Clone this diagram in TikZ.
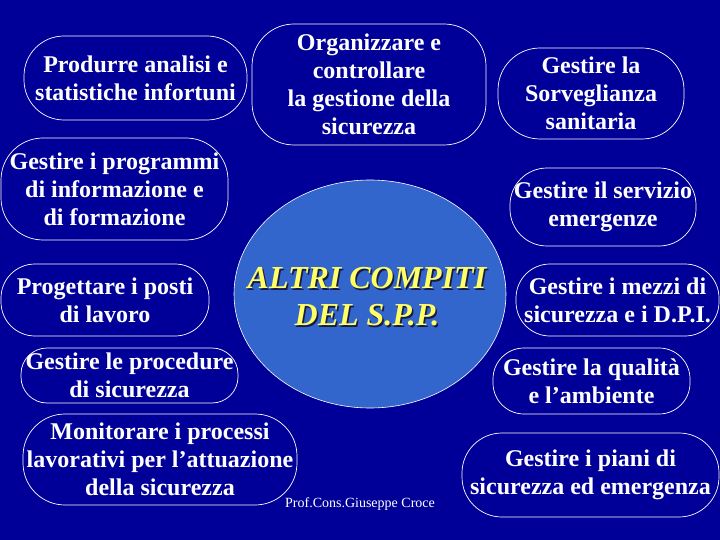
\documentclass[tikz,border=0pt]{standalone}
\usepackage{fontspec}
\setmainfont{Liberation Serif}
\usetikzlibrary{positioning,shapes.geometric}
\definecolor{SPPNavy}{HTML}{000099}
\definecolor{SPPBlue}{HTML}{3366CC}
\definecolor{SPPYellow}{HTML}{FFFF66}
\definecolor{SPPShadow}{HTML}{1A1A40}
\tikzset{
  task/.style={draw=white,line width=0.7pt,rounded corners=#1,text=white,
    font=\fontsize{24}{28}\selectfont\bfseries,align=center,inner sep=0pt},
  task/.default=40pt,
  title/.style={font=\fontsize{32}{37}\selectfont\bfseries\itshape,align=center}
}
\begin{document}
\begin{tikzpicture}[x=1pt,y=-1pt]
    \useasboundingbox (0,0) rectangle (720,540);
    \fill[SPPNavy] (0,0) rectangle (720,540);
    \node[ellipse,fill=SPPBlue,draw=white,line width=0.6pt,
      minimum width=272pt,minimum height=228pt] (compiti) at (370,294) {};
    \node[title,text=SPPShadow] (ombra) at (368.5,298.5)
      {ALTRI COMPITI\\DEL S.P.P.};
    \node[title,text=SPPYellow] (titolo) at (367,297)
      {ALTRI COMPITI\\DEL S.P.P.};
    \node[task,minimum width=223pt,minimum height=84pt] (analisi) at (135.5,78)
      {Produrre analisi e\\statistiche infortuni};
    \node[task=42pt,minimum width=234pt,minimum height=121pt] (organizzare) at (369,84.5)
      {Organizzare e\\controllare\\la gestione della\\sicurezza};
    \node[task=42pt,minimum width=186pt,minimum height=91pt] (sorveglianza) at (591,93.5)
      {Gestire la\\Sorveglianza\\sanitaria};
    \node[task=42pt,minimum width=227pt,minimum height=102pt] (programmi) at (114.5,189)
      {Gestire i programmi\\di informazione e\\di formazione};
    \node[task=37pt,minimum width=186pt,minimum height=78pt] (emergenze) at (603,207)
      {Gestire il servizio\\emergenze};
    \node[task=34pt,minimum width=208pt,minimum height=72pt] (posti) at (105,300)
      {Progettare i posti\\di lavoro};
    \node[task=26pt,minimum width=217pt,minimum height=55pt] (procedure) at (129.5,375.5)
      {Gestire le procedure\\di sicurezza};
    \node[task=42pt,minimum width=274pt,minimum height=91pt] (monitorare) at (160,459.5)
      {Monitorare i processi\\lavorativi per l’attuazione\\della sicurezza};
    \node[task=34pt,minimum width=203pt,minimum height=72pt] (mezzi) at (617.5,300)
      {Gestire i mezzi di\\sicurezza e i D.P.I.};
    \node[task=31pt,minimum width=197pt,minimum height=66pt] (qualita) at (591.5,381)
      {Gestire la qualità\\e l’ambiente};
    \node[task,minimum width=257pt,minimum height=84pt] (piani) at (590.5,475)
      {Gestire i piani di\\sicurezza ed emergenza};
    \node[text=white,font=\fontsize{14}{16}\selectfont] (firma) at (360,504)
      {Prof.Cons.Giuseppe Croce};
\end{tikzpicture}
\end{document}
